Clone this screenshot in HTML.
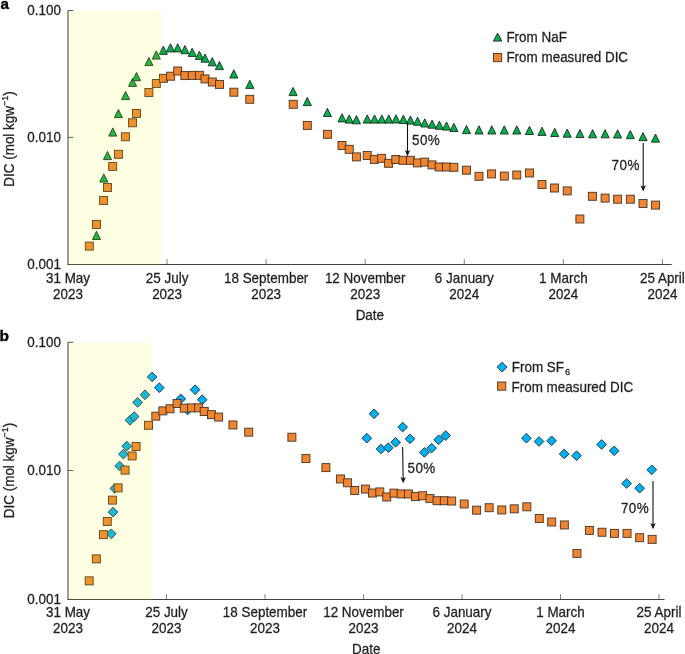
<!DOCTYPE html>
<html><head><meta charset="utf-8"><style>
html,body{margin:0;padding:0;background:#fff;width:685px;height:654px;overflow:hidden}
text{font-family:'Liberation Sans',sans-serif;stroke:#231F20;stroke-width:0.28px}
</style></head><body>
<svg width="685" height="654" viewBox="0 0 685 654" style="display:block;will-change:transform;font-family:'Liberation Sans',sans-serif" font-size="13.9" fill="#231F20">
<rect width="685" height="654" fill="#fff"/>
<text x="0.4" y="8.7" font-weight="bold" font-size="15.2" fill="#000" style="stroke:#000;stroke-width:0.35px">a</text>
<text x="-0.5" y="340.5" font-weight="bold" font-size="15.5" fill="#000" style="stroke:#000;stroke-width:0.35px">b</text>
<g stroke="#3a3a3a" stroke-width="1" fill="none">
<path d="M68.0 10.6V264.5"/>
<path d="M67.5 264.5H671.7" stroke="#404040"/>
<path d="M68.0 10.6h5.2M68.0 137.4h5.2" stroke-width="0.9"/>
<path d="M167.07 264.3v-5.1" stroke-width="0.65"/>
<path d="M266.14 264.3v-5.1" stroke-width="0.65"/>
<path d="M365.21 264.3v-5.1" stroke-width="0.65"/>
<path d="M464.28 264.3v-5.1" stroke-width="0.65"/>
<path d="M563.35 264.3v-5.1" stroke-width="0.65"/>
<path d="M662.42 264.3v-5.1" stroke-width="0.65"/>
</g>
<text transform="translate(61.00 15.40) scale(0.968 1)" text-anchor="end">0.100</text>
<text transform="translate(61.00 142.20) scale(0.968 1)" text-anchor="end">0.010</text>
<text transform="translate(61.00 269.10) scale(0.968 1)" text-anchor="end">0.001</text>
<text transform="translate(68.00 282.90) scale(0.968 1)" text-anchor="middle">31 May</text>
<text transform="translate(68.00 298.90) scale(0.968 1)" text-anchor="middle">2023</text>
<text transform="translate(167.07 282.90) scale(0.968 1)" text-anchor="middle">25 July</text>
<text transform="translate(167.07 298.90) scale(0.968 1)" text-anchor="middle">2023</text>
<text transform="translate(266.14 282.90) scale(0.968 1)" text-anchor="middle">18 September</text>
<text transform="translate(266.14 298.90) scale(0.968 1)" text-anchor="middle">2023</text>
<text transform="translate(365.21 282.90) scale(0.968 1)" text-anchor="middle">12 November</text>
<text transform="translate(365.21 298.90) scale(0.968 1)" text-anchor="middle">2023</text>
<text transform="translate(464.28 282.90) scale(0.968 1)" text-anchor="middle">6 January</text>
<text transform="translate(464.28 298.90) scale(0.968 1)" text-anchor="middle">2024</text>
<text transform="translate(563.35 282.90) scale(0.968 1)" text-anchor="middle">1 March</text>
<text transform="translate(563.35 298.90) scale(0.968 1)" text-anchor="middle">2024</text>
<text transform="translate(662.42 282.90) scale(0.968 1)" text-anchor="middle">25 April</text>
<text transform="translate(662.42 298.90) scale(0.968 1)" text-anchor="middle">2024</text>
<text transform="translate(369.85 320.00) scale(0.968 1)" text-anchor="middle">Date</text>
<text transform="translate(14.1 139.0) rotate(-90) scale(0.968 1)" text-anchor="middle">DIC (mol kgw<tspan font-size="9.2" dy="-6.0">−1</tspan><tspan dy="6.0">)</tspan></text>
<g fill="#07AE4E" stroke="#1b2a1b" stroke-width="0.9" stroke-linejoin="miter"><path d="M96.50 231.30L100.55 239.50L92.45 239.50Z"/><path d="M103.80 173.90L107.85 182.10L99.75 182.10Z"/><path d="M107.50 151.40L111.55 159.60L103.45 159.60Z"/><path d="M112.80 127.90L116.85 136.10L108.75 136.10Z"/><path d="M118.40 109.40L122.45 117.60L114.35 117.60Z"/><path d="M125.60 91.40L129.65 99.60L121.55 99.60Z"/><path d="M132.60 78.20L136.65 86.40L128.55 86.40Z"/><path d="M136.50 72.50L140.55 80.70L132.45 80.70Z"/><path d="M148.90 57.40L152.95 65.60L144.85 65.60Z"/><path d="M156.30 50.90L160.35 59.10L152.25 59.10Z"/><path d="M163.30 46.20L167.35 54.40L159.25 54.40Z"/><path d="M170.50 43.70L174.55 51.90L166.45 51.90Z"/><path d="M177.70 43.70L181.75 51.90L173.65 51.90Z"/><path d="M184.90 45.50L188.95 53.70L180.85 53.70Z"/><path d="M192.20 48.20L196.25 56.40L188.15 56.40Z"/><path d="M199.40 51.20L203.45 59.40L195.35 59.40Z"/><path d="M205.00 54.00L209.05 62.20L200.95 62.20Z"/><path d="M212.20 57.60L216.25 65.80L208.15 65.80Z"/><path d="M219.40 61.40L223.45 69.60L215.35 69.60Z"/><path d="M233.80 69.80L237.85 78.00L229.75 78.00Z"/><path d="M249.80 80.20L253.85 88.40L245.75 88.40Z"/><path d="M293.10 87.40L297.15 95.60L289.05 95.60Z"/><path d="M307.30 97.40L311.35 105.60L303.25 105.60Z"/><path d="M327.40 108.30L331.45 116.50L323.35 116.50Z"/><path d="M342.00 113.70L346.05 121.90L337.95 121.90Z"/><path d="M349.20 114.90L353.25 123.10L345.15 123.10Z"/><path d="M356.40 115.60L360.45 123.80L352.35 123.80Z"/><path d="M367.20 114.90L371.25 123.10L363.15 123.10Z"/><path d="M374.50 114.90L378.55 123.10L370.45 123.10Z"/><path d="M381.80 114.90L385.85 123.10L377.75 123.10Z"/><path d="M388.80 114.90L392.85 123.10L384.75 123.10Z"/><path d="M396.00 114.80L400.05 123.00L391.95 123.00Z"/><path d="M403.30 115.20L407.35 123.40L399.25 123.40Z"/><path d="M410.40 115.90L414.45 124.10L406.35 124.10Z"/><path d="M417.60 117.10L421.65 125.30L413.55 125.30Z"/><path d="M424.80 118.80L428.85 127.00L420.75 127.00Z"/><path d="M432.10 120.00L436.15 128.20L428.05 128.20Z"/><path d="M439.40 121.10L443.45 129.30L435.35 129.30Z"/><path d="M446.50 121.90L450.55 130.10L442.45 130.10Z"/><path d="M453.90 123.30L457.95 131.50L449.85 131.50Z"/><path d="M466.50 125.40L470.55 133.60L462.45 133.60Z"/><path d="M479.00 125.80L483.05 134.00L474.95 134.00Z"/><path d="M491.80 125.80L495.85 134.00L487.75 134.00Z"/><path d="M504.30 125.80L508.35 134.00L500.25 134.00Z"/><path d="M516.80 125.80L520.85 134.00L512.75 134.00Z"/><path d="M529.50 126.30L533.55 134.50L525.45 134.50Z"/><path d="M542.00 127.20L546.05 135.40L537.95 135.40Z"/><path d="M554.70 128.30L558.75 136.50L550.65 136.50Z"/><path d="M567.20 129.00L571.25 137.20L563.15 137.20Z"/><path d="M579.90 129.40L583.95 137.60L575.85 137.60Z"/><path d="M592.60 129.60L596.65 137.80L588.55 137.80Z"/><path d="M605.10 129.60L609.15 137.80L601.05 137.80Z"/><path d="M617.60 129.80L621.65 138.00L613.55 138.00Z"/><path d="M630.30 130.50L634.35 138.70L626.25 138.70Z"/><path d="M643.00 132.50L647.05 140.70L638.95 140.70Z"/><path d="M655.50 134.00L659.55 142.20L651.45 142.20Z"/></g>
<g fill="#EF8431" stroke="#4a3322" stroke-width="0.9"><rect x="85.30" y="242.10" width="8.0" height="8.0"/><rect x="92.50" y="220.40" width="8.0" height="8.0"/><rect x="99.60" y="196.50" width="8.0" height="8.0"/><rect x="103.50" y="183.50" width="8.0" height="8.0"/><rect x="108.70" y="162.40" width="8.0" height="8.0"/><rect x="114.40" y="150.30" width="8.0" height="8.0"/><rect x="121.40" y="132.80" width="8.0" height="8.0"/><rect x="128.50" y="118.80" width="8.0" height="8.0"/><rect x="132.50" y="109.40" width="8.0" height="8.0"/><rect x="144.90" y="88.50" width="8.0" height="8.0"/><rect x="152.30" y="79.50" width="8.0" height="8.0"/><rect x="159.40" y="74.30" width="8.0" height="8.0"/><rect x="166.60" y="72.20" width="8.0" height="8.0"/><rect x="173.70" y="67.00" width="8.0" height="8.0"/><rect x="180.90" y="71.60" width="8.0" height="8.0"/><rect x="188.20" y="71.40" width="8.0" height="8.0"/><rect x="195.40" y="71.30" width="8.0" height="8.0"/><rect x="201.00" y="74.90" width="8.0" height="8.0"/><rect x="208.30" y="78.00" width="8.0" height="8.0"/><rect x="215.50" y="80.40" width="8.0" height="8.0"/><rect x="229.90" y="88.20" width="8.0" height="8.0"/><rect x="245.80" y="95.30" width="8.0" height="8.0"/><rect x="289.20" y="100.30" width="8.0" height="8.0"/><rect x="303.30" y="121.40" width="8.0" height="8.0"/><rect x="323.40" y="130.30" width="8.0" height="8.0"/><rect x="338.00" y="141.50" width="8.0" height="8.0"/><rect x="345.20" y="145.30" width="8.0" height="8.0"/><rect x="352.40" y="152.90" width="8.0" height="8.0"/><rect x="363.20" y="151.50" width="8.0" height="8.0"/><rect x="370.30" y="155.40" width="8.0" height="8.0"/><rect x="377.60" y="154.30" width="8.0" height="8.0"/><rect x="384.60" y="159.30" width="8.0" height="8.0"/><rect x="391.80" y="155.50" width="8.0" height="8.0"/><rect x="399.00" y="156.30" width="8.0" height="8.0"/><rect x="406.40" y="156.30" width="8.0" height="8.0"/><rect x="413.40" y="158.90" width="8.0" height="8.0"/><rect x="420.70" y="158.10" width="8.0" height="8.0"/><rect x="428.00" y="160.90" width="8.0" height="8.0"/><rect x="435.20" y="163.00" width="8.0" height="8.0"/><rect x="442.50" y="163.00" width="8.0" height="8.0"/><rect x="449.90" y="163.30" width="8.0" height="8.0"/><rect x="462.50" y="166.20" width="8.0" height="8.0"/><rect x="475.00" y="172.30" width="8.0" height="8.0"/><rect x="487.60" y="169.90" width="8.0" height="8.0"/><rect x="500.30" y="172.10" width="8.0" height="8.0"/><rect x="512.80" y="171.00" width="8.0" height="8.0"/><rect x="525.50" y="169.00" width="8.0" height="8.0"/><rect x="538.00" y="180.50" width="8.0" height="8.0"/><rect x="550.50" y="184.00" width="8.0" height="8.0"/><rect x="563.20" y="186.90" width="8.0" height="8.0"/><rect x="575.90" y="215.00" width="8.0" height="8.0"/><rect x="588.40" y="192.30" width="8.0" height="8.0"/><rect x="601.10" y="194.10" width="8.0" height="8.0"/><rect x="613.60" y="195.20" width="8.0" height="8.0"/><rect x="626.30" y="195.20" width="8.0" height="8.0"/><rect x="639.00" y="199.50" width="8.0" height="8.0"/><rect x="651.50" y="201.10" width="8.0" height="8.0"/></g>
<rect x="68.5" y="10.9" width="92.4" height="254.1" fill="#FFFF00" fill-opacity="0.11"/>
<path d="M407.5 122.8L407.5 154.3" stroke="#111" stroke-width="1.1" fill="none"/><path d="M407.5 156.3L404.8 150.0L407.5 151.6L410.2 150.0Z" fill="#111"/>
<path d="M643.2 143.1L643.2 189.5" stroke="#111" stroke-width="1.1" fill="none"/><path d="M643.2 191.5L640.5 185.2L643.2 186.79999999999998L645.9000000000001 185.2Z" fill="#111"/>
<text transform="translate(412.00 144.80) scale(0.968 1)" letter-spacing="0.45">50%</text>
<text transform="translate(611.60 169.90) scale(0.968 1)" letter-spacing="0.45">70%</text>
<g fill="#07AE4E" stroke="#1b2a1b" stroke-width="0.9"><path d="M497.60 33.10L501.85 41.10L493.35 41.10Z"/></g>
<g fill="#EF8431" stroke="#4a3322" stroke-width="0.9"><rect x="493.50" y="53.50" width="8.2" height="8.2"/></g>
<text transform="translate(506.40 41.80) scale(0.968 1)">From NaF</text>
<text transform="translate(506.40 61.70) scale(0.968 1)">From measured DIC</text>
<g stroke="#3a3a3a" stroke-width="1" fill="none">
<path d="M68.0 342.3V599.5"/>
<path d="M67.5 599.5H664.5" stroke="#404040"/>
<path d="M68.0 342.3h5.2M68.0 470.5h5.2" stroke-width="0.9"/>
<path d="M166.50 599.3v-5.1" stroke-width="0.65"/>
<path d="M265.00 599.3v-5.1" stroke-width="0.65"/>
<path d="M363.50 599.3v-5.1" stroke-width="0.65"/>
<path d="M462.00 599.3v-5.1" stroke-width="0.65"/>
<path d="M560.50 599.3v-5.1" stroke-width="0.65"/>
<path d="M659.00 599.3v-5.1" stroke-width="0.65"/>
</g>
<text transform="translate(61.00 347.10) scale(0.968 1)" text-anchor="end">0.100</text>
<text transform="translate(61.00 475.30) scale(0.968 1)" text-anchor="end">0.010</text>
<text transform="translate(61.00 604.10) scale(0.968 1)" text-anchor="end">0.001</text>
<text transform="translate(68.00 616.60) scale(0.968 1)" text-anchor="middle">31 May</text>
<text transform="translate(68.00 632.80) scale(0.968 1)" text-anchor="middle">2023</text>
<text transform="translate(166.50 616.60) scale(0.968 1)" text-anchor="middle">25 July</text>
<text transform="translate(166.50 632.80) scale(0.968 1)" text-anchor="middle">2023</text>
<text transform="translate(265.00 616.60) scale(0.968 1)" text-anchor="middle">18 September</text>
<text transform="translate(265.00 632.80) scale(0.968 1)" text-anchor="middle">2023</text>
<text transform="translate(363.50 616.60) scale(0.968 1)" text-anchor="middle">12 November</text>
<text transform="translate(363.50 632.80) scale(0.968 1)" text-anchor="middle">2023</text>
<text transform="translate(462.00 616.60) scale(0.968 1)" text-anchor="middle">6 January</text>
<text transform="translate(462.00 632.80) scale(0.968 1)" text-anchor="middle">2024</text>
<text transform="translate(560.50 616.60) scale(0.968 1)" text-anchor="middle">1 March</text>
<text transform="translate(560.50 632.80) scale(0.968 1)" text-anchor="middle">2024</text>
<text transform="translate(659.00 616.60) scale(0.968 1)" text-anchor="middle">25 April</text>
<text transform="translate(659.00 632.80) scale(0.968 1)" text-anchor="middle">2024</text>
<text transform="translate(366.25 654.30) scale(0.968 1)" text-anchor="middle">Date</text>
<text transform="translate(14.1 470.5) rotate(-90) scale(0.968 1)" text-anchor="middle">DIC (mol kgw<tspan font-size="9.2" dy="-6.0">−1</tspan><tspan dy="6.0">)</tspan></text>
<g fill="#00B0F0" stroke="#1b2f3a" stroke-width="0.9"><path d="M111.30 528.95L116.15 533.80L111.30 538.65L106.45 533.80Z"/><path d="M113.00 507.25L117.85 512.10L113.00 516.95L108.15 512.10Z"/><path d="M114.80 483.65L119.65 488.50L114.80 493.35L109.95 488.50Z"/><path d="M119.60 461.15L124.45 466.00L119.60 470.85L114.75 466.00Z"/><path d="M126.80 441.25L131.65 446.10L126.80 450.95L121.95 446.10Z"/><path d="M123.40 449.25L128.25 454.10L123.40 458.95L118.55 454.10Z"/><path d="M130.00 415.45L134.85 420.30L130.00 425.15L125.15 420.30Z"/><path d="M134.20 411.75L139.05 416.60L134.20 421.45L129.35 416.60Z"/><path d="M137.60 397.55L142.45 402.40L137.60 407.25L132.75 402.40Z"/><path d="M145.00 389.95L149.85 394.80L145.00 399.65L140.15 394.80Z"/><path d="M152.10 372.05L156.95 376.90L152.10 381.75L147.25 376.90Z"/><path d="M159.30 382.85L164.15 387.70L159.30 392.55L154.45 387.70Z"/><path d="M180.80 394.05L185.65 398.90L180.80 403.75L175.95 398.90Z"/><path d="M187.60 405.15L192.45 410.00L187.60 414.85L182.75 410.00Z"/><path d="M195.10 384.85L199.95 389.70L195.10 394.55L190.25 389.70Z"/><path d="M202.20 394.85L207.05 399.70L202.20 404.55L197.35 399.70Z"/><path d="M366.80 433.35L371.65 438.20L366.80 443.05L361.95 438.20Z"/><path d="M374.10 408.95L378.95 413.80L374.10 418.65L369.25 413.80Z"/><path d="M381.00 444.15L385.85 449.00L381.00 453.85L376.15 449.00Z"/><path d="M388.30 442.85L393.15 447.70L388.30 452.55L383.45 447.70Z"/><path d="M395.60 437.45L400.45 442.30L395.60 447.15L390.75 442.30Z"/><path d="M402.70 422.25L407.55 427.10L402.70 431.95L397.85 427.10Z"/><path d="M410.00 433.95L414.85 438.80L410.00 443.65L405.15 438.80Z"/><path d="M424.40 447.55L429.25 452.40L424.40 457.25L419.55 452.40Z"/><path d="M431.60 443.25L436.45 448.10L431.60 452.95L426.75 448.10Z"/><path d="M438.60 434.95L443.45 439.80L438.60 444.65L433.75 439.80Z"/><path d="M445.70 430.75L450.55 435.60L445.70 440.45L440.85 435.60Z"/><path d="M526.40 433.35L531.25 438.20L526.40 443.05L521.55 438.20Z"/><path d="M539.00 436.65L543.85 441.50L539.00 446.35L534.15 441.50Z"/><path d="M551.60 435.95L556.45 440.80L551.60 445.65L546.75 440.80Z"/><path d="M564.20 449.05L569.05 453.90L564.20 458.75L559.35 453.90Z"/><path d="M576.60 450.85L581.45 455.70L576.60 460.55L571.75 455.70Z"/><path d="M601.60 439.65L606.45 444.50L601.60 449.35L596.75 444.50Z"/><path d="M614.20 445.95L619.05 450.80L614.20 455.65L609.35 450.80Z"/><path d="M626.60 478.65L631.45 483.50L626.60 488.35L621.75 483.50Z"/><path d="M639.60 483.35L644.45 488.20L639.60 493.05L634.75 488.20Z"/><path d="M651.80 464.95L656.65 469.80L651.80 474.65L646.95 469.80Z"/></g>
<g fill="#EF8431" stroke="#4a3322" stroke-width="0.9"><rect x="85.18" y="576.86" width="8.0" height="8.0"/><rect x="92.34" y="554.88" width="8.0" height="8.0"/><rect x="99.40" y="530.67" width="8.0" height="8.0"/><rect x="103.27" y="517.50" width="8.0" height="8.0"/><rect x="108.44" y="496.13" width="8.0" height="8.0"/><rect x="114.11" y="483.87" width="8.0" height="8.0"/><rect x="121.07" y="466.14" width="8.0" height="8.0"/><rect x="128.13" y="451.96" width="8.0" height="8.0"/><rect x="132.11" y="442.44" width="8.0" height="8.0"/><rect x="144.43" y="421.27" width="8.0" height="8.0"/><rect x="151.79" y="412.15" width="8.0" height="8.0"/><rect x="158.85" y="406.88" width="8.0" height="8.0"/><rect x="166.01" y="404.75" width="8.0" height="8.0"/><rect x="173.07" y="399.49" width="8.0" height="8.0"/><rect x="180.23" y="404.15" width="8.0" height="8.0"/><rect x="187.49" y="403.94" width="8.0" height="8.0"/><rect x="194.64" y="403.84" width="8.0" height="8.0"/><rect x="200.21" y="407.49" width="8.0" height="8.0"/><rect x="207.47" y="410.63" width="8.0" height="8.0"/><rect x="214.63" y="413.06" width="8.0" height="8.0"/><rect x="228.95" y="420.96" width="8.0" height="8.0"/><rect x="244.75" y="428.15" width="8.0" height="8.0"/><rect x="287.90" y="433.22" width="8.0" height="8.0"/><rect x="301.92" y="454.59" width="8.0" height="8.0"/><rect x="321.91" y="463.61" width="8.0" height="8.0"/><rect x="336.42" y="474.95" width="8.0" height="8.0"/><rect x="343.58" y="478.80" width="8.0" height="8.0"/><rect x="350.74" y="486.50" width="8.0" height="8.0"/><rect x="361.48" y="485.08" width="8.0" height="8.0"/><rect x="368.54" y="489.04" width="8.0" height="8.0"/><rect x="375.80" y="487.92" width="8.0" height="8.0"/><rect x="382.76" y="492.99" width="8.0" height="8.0"/><rect x="389.91" y="489.14" width="8.0" height="8.0"/><rect x="397.07" y="489.95" width="8.0" height="8.0"/><rect x="404.43" y="489.95" width="8.0" height="8.0"/><rect x="411.39" y="492.58" width="8.0" height="8.0"/><rect x="418.65" y="491.77" width="8.0" height="8.0"/><rect x="425.91" y="494.61" width="8.0" height="8.0"/><rect x="433.06" y="496.73" width="8.0" height="8.0"/><rect x="440.32" y="496.73" width="8.0" height="8.0"/><rect x="447.68" y="497.04" width="8.0" height="8.0"/><rect x="460.21" y="499.98" width="8.0" height="8.0"/><rect x="472.64" y="506.16" width="8.0" height="8.0"/><rect x="485.16" y="503.72" width="8.0" height="8.0"/><rect x="497.79" y="505.95" width="8.0" height="8.0"/><rect x="510.22" y="504.84" width="8.0" height="8.0"/><rect x="522.84" y="502.81" width="8.0" height="8.0"/><rect x="535.27" y="514.46" width="8.0" height="8.0"/><rect x="547.70" y="518.01" width="8.0" height="8.0"/><rect x="560.33" y="520.95" width="8.0" height="8.0"/><rect x="572.95" y="549.41" width="8.0" height="8.0"/><rect x="585.38" y="526.42" width="8.0" height="8.0"/><rect x="598.01" y="528.24" width="8.0" height="8.0"/><rect x="610.44" y="529.35" width="8.0" height="8.0"/><rect x="623.06" y="529.35" width="8.0" height="8.0"/><rect x="635.69" y="533.71" width="8.0" height="8.0"/><rect x="648.12" y="535.33" width="8.0" height="8.0"/></g>
<rect x="68.5" y="342.7" width="83.69999999999999" height="257.3" fill="#FFFF00" fill-opacity="0.11"/>
<path d="M402.6 446.9L403.2 481.2" stroke="#111" stroke-width="1.1" fill="none"/><path d="M403.2 483.2L400.5 476.9L403.2 478.5L405.9 476.9Z" fill="#111"/>
<path d="M653.0 481.1L653.0 527.2" stroke="#111" stroke-width="1.1" fill="none"/><path d="M653.0 529.2L650.3 522.9000000000001L653.0 524.5000000000001L655.7 522.9000000000001Z" fill="#111"/>
<text transform="translate(407.50 472.70) scale(0.968 1)" letter-spacing="0.45">50%</text>
<text transform="translate(620.90 513.20) scale(0.968 1)" letter-spacing="0.45">70%</text>
<g fill="#00B0F0" stroke="#1b2f3a" stroke-width="0.9"><path d="M502.10 362.20L507.00 367.10L502.10 372.00L497.20 367.10Z"/></g>
<g fill="#EF8431" stroke="#4a3322" stroke-width="0.9"><rect x="497.60" y="382.00" width="8.2" height="8.2"/></g>
<text transform="translate(511.80 371.70) scale(0.968 1)">From SF<tspan font-size="9.5" dx="1.0" dy="3.2">6</tspan></text>
<text transform="translate(511.50 391.50) scale(0.968 1)">From measured DIC</text>
</svg>
</body></html>
